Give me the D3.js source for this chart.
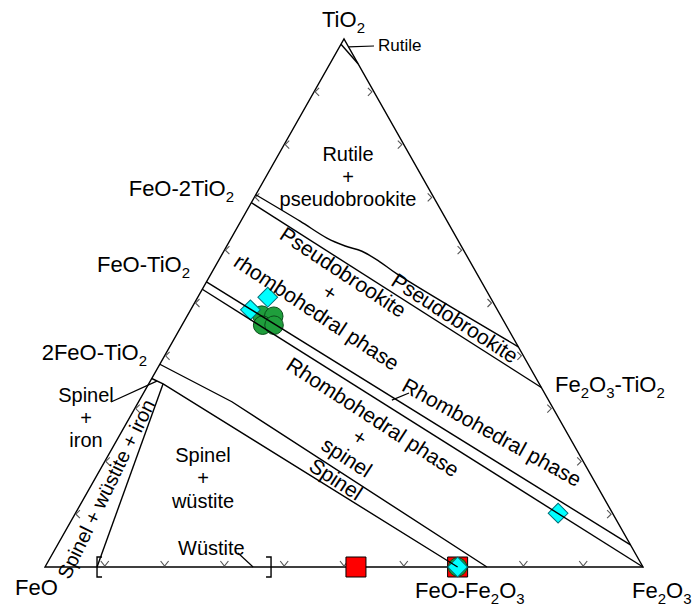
<!DOCTYPE html>
<html>
<head>
<meta charset="utf-8">
<script src="https://cdn.jsdelivr.net/npm/d3@7"></script>
<style>
  body { margin: 0; background: #fff; }
  text { font-family: "Liberation Sans", Arial, sans-serif; fill: #000; }
</style>
</head>
<body>
<svg id="chart" width="696" height="607"></svg>
<script>
// Compositions are wt% [FeO, Fe2O3, TiO2]
const tickSteps = [10, 20, 30, 40, 50, 60, 70, 80, 90];

// Phase boundaries
const rutileLimit = [[1, 0, 99], [0, 4.7, 95.3]];
const pseudobrookiteUpper = [[29.5, 0, 70.5], [24.6, 9.9, 65.5], [21.6, 16.0, 62.3], [19.4, 19.8, 60.8],
                             [17.1, 23.1, 59.8], [15.1, 27.1, 57.8], [13.4, 31.1, 55.5], [0, 58.3, 41.7]];
const pseudobrookiteLower = [[31, 0, 69], [0, 66, 34]];
const rhombohedralUpper = [[46, 0, 54], [0, 95.8, 4.2]];
const rhombohedralLower = [[47.4, 0, 52.6], [0, 100, 0]];
const spinelUpper = [[61.6, 0, 38.4], [53.1, 15.6, 31.3], [26.1, 73.9, 0]];
const spinelLower = [[64.3, 0, 35.7], [62.9, 2.4, 34.7], [31, 69, 0]];
const wustiteLimit = [[62.9, 2.4, 34.7], [91.3, 8.7, 0]];
const wustiteRange = [8.7, 37.8];   // Fe2O3 wt% along the FeO–Fe2O3 join

// Analysed samples
const squareSamples = [[48, 52, 0], [31, 69, 0]];
const circleSamples = [[39.9, 12.4, 47.7], [37.9, 14.5, 47.5], [40.6, 13.5, 45.8], [38.8, 15.4, 45.8], [31, 69, 0]];
const diamondSamples = [[37.1, 11.7, 51.1], [41.4, 10.0, 48.7], [9.1, 80.7, 10.2], [31, 69, 0]];

// Leader anchor compositions
const rutileAnchor = [0, 1.5, 98.5];
const rhombAnchor = [26.2, 42.2, 31.6];
const spinelIronAnchor = [63.7, 1.1, 35.2];
const wustiteAnchor = [65.2, 34.8, 0];

const svg = d3.select("#chart");
const x = d3.scaleLinear().domain([0, 100]).range([45, 643]);
const y = d3.scaleLinear().domain([0, 100]).range([567, 39]);
const project = ([a, b, c]) => [x(b + c / 2), y(c)];

const line = d3.line();
const curved = d3.line().curve(d3.curveCatmullRom.alpha(0.5));

// Triangle outline
svg.append("path")
  .attr("d", line([[100, 0, 0], [0, 100, 0], [0, 0, 100]].map(project)) + "Z")
  .attr("fill", "none").attr("stroke", "#000").attr("stroke-width", 1.4)
  .attr("stroke-linejoin", "miter");

// Edge chevrons
const tickG = svg.append("g").attr("fill", "none").attr("stroke", "#555").attr("stroke-width", 1.1);
tickSteps.forEach(t => {
  const [lx, ly] = project([100 - t, 0, t]);        // FeO–TiO2 side
  tickG.append("path").attr("d", `M${lx + 5},${ly - 4}L${lx + 1},${ly}L${lx + 5},${ly + 4}`);
  const [rx, ry] = project([0, 100 - t, t]);        // Fe2O3–TiO2 side
  tickG.append("path").attr("d", `M${rx - 6},${ry - 4}L${rx - 2},${ry}L${rx - 6},${ry + 4}`);
  const [bx, by] = project([100 - t, t, 0]);        // FeO–Fe2O3 side
  tickG.append("path").attr("d", `M${bx - 4},${by - 6}L${bx},${by - 1}L${bx + 4},${by - 6}`);
});

// Sample symbols
const markG = svg.append("g");
markG.selectAll(".sq").data(squareSamples).join("path")
  .attr("transform", d => `translate(${project(d)})`)
  .attr("d", d3.symbol(d3.symbolSquare, 400))
  .attr("fill", "#ff0000").attr("stroke", "#000").attr("stroke-width", 1);
markG.selectAll(".ci").data(circleSamples).join("path")
  .attr("transform", d => `translate(${project(d)})`)
  .attr("d", d3.symbol(d3.symbolCircle, 270))
  .attr("fill", "#1f9e3c").attr("stroke", "#0a4d1a").attr("stroke-width", 1);
markG.selectAll(".di").data(diamondSamples).join("path")
  .attr("transform", d => `translate(${project(d)}) rotate(45)`)
  .attr("d", d3.symbol(d3.symbolSquare, 196))
  .attr("fill", "#00ffff").attr("stroke", "#00707a").attr("stroke-width", 1);

// Phase boundaries
const bG = svg.append("g").attr("fill", "none").attr("stroke", "#000").attr("stroke-width", 1.4);
[rutileLimit, pseudobrookiteLower, rhombohedralUpper, rhombohedralLower, spinelUpper, spinelLower, wustiteLimit]
  .forEach(p => bG.append("path").attr("d", line(p.map(project))));
bG.append("path").attr("d", curved(pseudobrookiteUpper.map(project)));

// Wüstite brackets
const [w0x, w0y] = project([100 - wustiteRange[0], wustiteRange[0], 0]);
const [w1x, w1y] = project([100 - wustiteRange[1], wustiteRange[1], 0]);
bG.append("path").attr("d", `M${w0x + 5},${w0y - 10}H${w0x}V${w0y + 10}H${w0x + 5}`);
bG.append("path").attr("d", `M${w1x - 5},${w1y - 10}H${w1x}V${w1y + 10}H${w1x - 5}`);

// Leaders
const lG = svg.append("g").attr("stroke", "#000").attr("stroke-width", 1.2);
const leader = (comp, ex, ey) => {
  const [px, py] = project(comp);
  lG.append("line").attr("x1", px).attr("y1", py).attr("x2", ex).attr("y2", ey);
};
leader(rutileAnchor, 374, 46);
leader(rhombAnchor, 409, 393);
leader(spinelIronAnchor, 111, 402);
leader(wustiteAnchor, 238, 553);

// Formula text with subscripts written as "_n"
function formula(sel, str, size) {
  let sub = false;
  str.split(/(_\d)/).filter(s => s).forEach(p => {
    if (p[0] === "_") {
      sel.append("tspan").attr("font-size", size * 0.68).attr("dy", size * 0.26).text(p.slice(1));
      sub = true;
    } else {
      const t = sel.append("tspan").text(p);
      if (sub) { t.attr("dy", -size * 0.26); sub = false; }
    }
  });
  return sel;
}
const compound = (str, px, py, anchor) =>
  formula(svg.append("text").attr("x", px).attr("y", py).attr("font-size", 22)
    .attr("text-anchor", anchor), str, 22);

compound("TiO_2", 322, 27, "start");
compound("FeO-2TiO_2", 234, 196, "end");
compound("FeO-TiO_2", 190, 272, "end");
compound("2FeO-TiO_2", 147, 360, "end");
compound("Fe_2O_3-TiO_2", 555, 392, "start");
compound("FeO", 15, 595, "start");
compound("FeO-Fe_2O_3", 415, 598, "start");
compound("Fe_2O_3", 632, 598, "start");

// Field labels
const block = (lines, cx, baselines, size) => lines.forEach((s, i) =>
  svg.append("text").attr("x", cx).attr("y", baselines[i]).attr("font-size", size)
    .attr("text-anchor", "middle").text(s));
svg.append("text").attr("x", 378).attr("y", 51).attr("font-size", 17).text("Rutile");
block(["Rutile", "+", "pseudobrookite"], 348, [161, 184, 206], 20);
block(["Spinel", "+", "iron"], 86, [402, 425, 447], 20);
block(["Spinel", "+", "wüstite"], 203, [462, 485, 508], 20);
svg.append("text").attr("x", 178).attr("y", 555).attr("font-size", 20).text("Wüstite");

const rotated = (lines, cx, cy, angle, size, gap) => {
  const g = svg.append("g").attr("transform", `translate(${cx},${cy}) rotate(${angle})`);
  const off = (lines.length - 1) / 2;
  lines.forEach((s, i) => g.append("text").attr("x", 0).attr("y", (i - off) * gap)
    .attr("dy", "0.36em").attr("font-size", size).attr("text-anchor", "middle").text(s));
};
rotated(["Pseudobrookite"], 455, 318, 33, 21, 0);
rotated(["Pseudobrookite", "+", "rhombohedral phase"], 330, 292, 33.5, 21, 24);
rotated(["Rhombohedral phase"], 492, 432, 29, 21, 0);
rotated(["Rhombohedral phase", "+", "spinel"], 360, 437, 33, 21, 24);
rotated(["Spinel"], 336, 479, 33, 21, 0);
rotated(["Spinel + wüstite + iron"], 106, 489, -64, 20, 0);
</script>
</body>
</html>
